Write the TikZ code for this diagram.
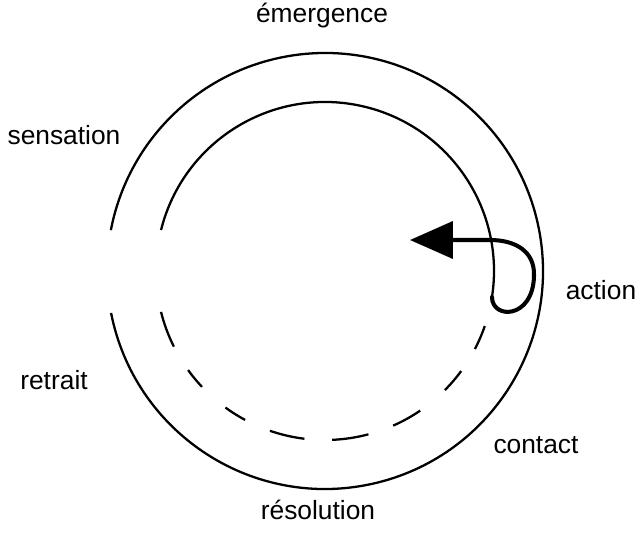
\documentclass[tikz,border=0pt]{standalone}
\usepackage{fontspec}
\setmainfont{Liberation Sans}
\usepackage{tikz}
\usetikzlibrary{arrows.meta}

\begin{document}
\begin{tikzpicture}[
    phase/.style={font=\fontsize{15}{18}\selectfont, inner sep=0pt},
    ring/.style={line width=1.3pt},
    loopline/.style={line width=2.3pt, line cap=round}
  ]
    \useasboundingbox (-6.5,-5.22) rectangle (6.28,5.42);

    % Outer ring, open on the left
    \draw[ring] (191.1:4.36) arc[start angle=191.1, end angle=529.2, radius=4.36];

    % Inner ring: solid part
    \draw[ring] (166:3.38) arc[start angle=166, end angle=-8.85, radius=3.38];

    % Inner ring: dashed part (hand spaced)
    \foreach \a/\b in {194/206.6, 215.9/223.3, 233.9/241.8, 251/263,
                       272.4/284.9, 293.8/304.3, 315.2/323.7, 332.5/341} {
      \draw[ring] (\a:3.38) arc[start angle=\a, end angle=\b, radius=3.38];
    }

    % Loop and arrow
    \coordinate (loopstart) at (-8.85:3.38);
    \coordinate (tip) at (1.7,0.62);
    \draw[loopline, -{Triangle[length=0.86cm, width=0.74cm]}]
      (loopstart) .. controls (3.34,-0.97) and (4.16,-0.97) .. (4.18,-0.1)
      .. controls (4.2,0.4) and (3.8,0.62) .. (3.3,0.62) -- (tip);

    % Phase names
    \node[phase] (emergence) at (-0.06,5.11) {émergence};
    \node[phase] (sensation) at (-5.22,2.72) {sensation};
    \node[phase] (action) at (5.52,-0.38) {action};
    \node[phase] (retrait) at (-5.42,-2.18) {retrait};
    \node[phase] (contact) at (4.22,-3.48) {contact};
    \node[phase] (resolution) at (-0.14,-4.78) {résolution};
\end{tikzpicture}
\end{document}
